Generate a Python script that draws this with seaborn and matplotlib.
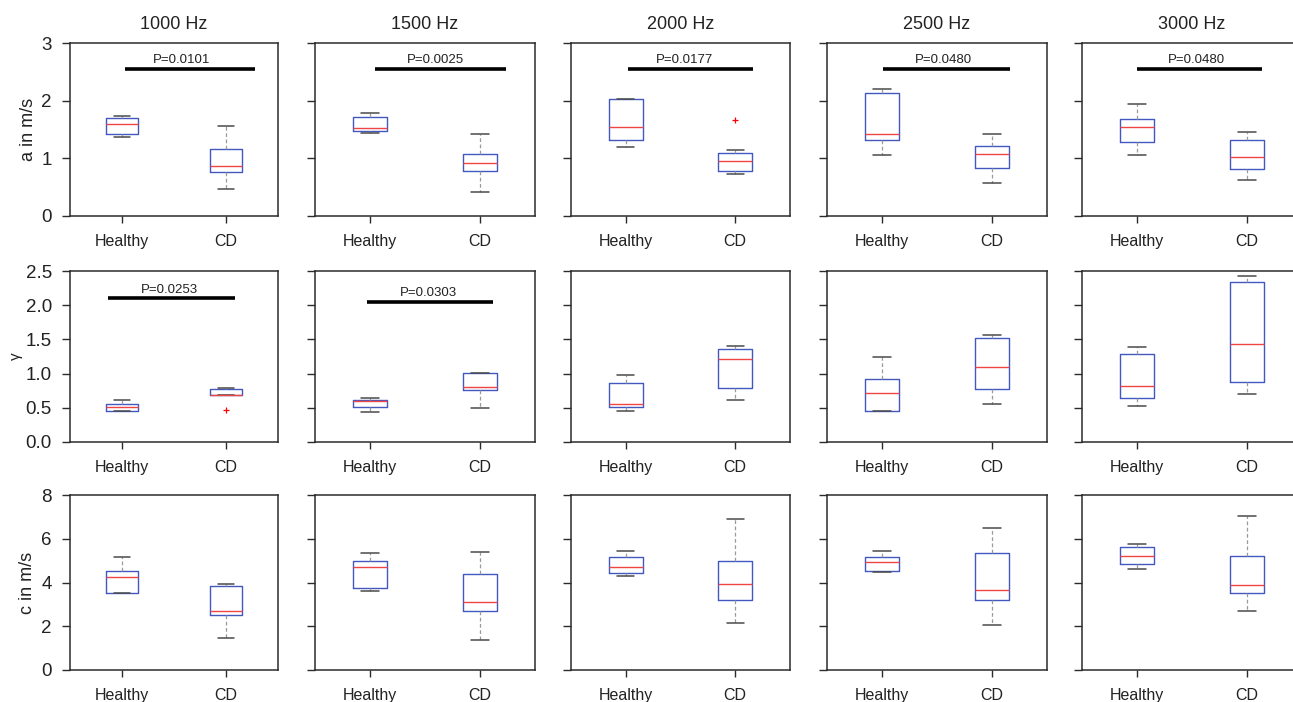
import numpy as np
import pandas as pd
import matplotlib
matplotlib.use("Agg")
import matplotlib.pyplot as plt
import matplotlib.transforms as mtransforms
import seaborn as sns

sns.set_theme(style="ticks")
plt.rcParams["font.family"] = ["Liberation Sans", "DejaVu Sans"]

# Data
freqs = ["1000 Hz", "1500 Hz", "2000 Hz", "2500 Hz", "3000 Hz"]
groups = ["Healthy", "CD"]

# each box: low whisker, Q1, median, Q3, high whisker (one per frequency)
a_healthy = [[1.37, 1.43, 1.59, 1.70, 1.74], [1.44, 1.48, 1.53, 1.71, 1.79],
             [1.19, 1.31, 1.55, 2.03, 2.03], [1.06, 1.32, 1.42, 2.13, 2.21],
             [1.05, 1.28, 1.54, 1.68, 1.94]]
a_cd = [[0.47, 0.76, 0.86, 1.16, 1.56], [0.42, 0.78, 0.92, 1.08, 1.42],
        [0.72, 0.78, 0.95, 1.10, 1.14], [0.58, 0.84, 1.08, 1.21, 1.42],
        [0.62, 0.81, 1.03, 1.32, 1.45]]
a_cd_outliers = [[], [], [1.66], [], []]

gamma_healthy = [[0.45, 0.46, 0.51, 0.55, 0.62], [0.44, 0.51, 0.60, 0.62, 0.65],
                 [0.46, 0.51, 0.55, 0.86, 0.98], [0.45, 0.45, 0.71, 0.92, 1.25],
                 [0.52, 0.64, 0.82, 1.28, 1.39]]
gamma_cd = [[0.68, 0.68, 0.69, 0.77, 0.79], [0.49, 0.76, 0.81, 1.01, 1.01],
            [0.61, 0.79, 1.21, 1.36, 1.41], [0.55, 0.77, 1.10, 1.52, 1.57],
            [0.70, 0.87, 1.43, 2.34, 2.42]]
gamma_cd_outliers = [[0.47], [], [], [], []]

c_healthy = [[3.51, 3.51, 4.25, 4.52, 5.15], [3.59, 3.77, 4.70, 5.00, 5.35],
             [4.32, 4.44, 4.70, 5.18, 5.43], [4.48, 4.51, 4.92, 5.18, 5.43],
             [4.61, 4.83, 5.21, 5.64, 5.76]]
c_cd = [[1.47, 2.53, 2.71, 3.86, 3.95], [1.39, 2.68, 3.13, 4.38, 5.39],
        [2.16, 3.20, 3.92, 5.00, 6.90], [2.04, 3.20, 3.65, 5.35, 6.47],
        [2.70, 3.54, 3.88, 5.21, 7.05]]
c_cd_outliers = [[], [], [], [], []]

a_pvalues = ["P=0.0101", "P=0.0025", "P=0.0177", "P=0.0480", "P=0.0480"]
gamma_pvalues = ["P=0.0253", "P=0.0303", None, None, None]
a_bar_level = [2.55, 2.55, 2.55, 2.55, 2.55]
gamma_bar_level = [2.1, 2.05, None, None, None]

a_ticks = [0, 1, 2, 3]
gamma_ticks = [0.0, 0.5, 1.0, 1.5, 2.0, 2.5]
c_ticks = [0, 2, 4, 6, 8]


def box_samples(stats, outliers):
    """Sample values whose quartiles/whiskers reproduce the drawn box."""
    lo, q1, med, q3, hi = stats
    return [lo, q1, q1, med, med, q3, q3, hi] + list(outliers)


def build_frame(healthy, cd, cd_out, i):
    rows = [("Healthy", v) for v in box_samples(healthy[i], [])]
    rows += [("CD", v) for v in box_samples(cd[i], cd_out[i])]
    return pd.DataFrame(rows, columns=["group", "value"])


rows_spec = [
    ("a in m/s", a_healthy, a_cd, a_cd_outliers, a_ticks, "{:g}", a_pvalues, a_bar_level),
    ("γ", gamma_healthy, gamma_cd, gamma_cd_outliers, gamma_ticks, "{:.1f}", gamma_pvalues, gamma_bar_level),
    ("c in m/s", c_healthy, c_cd, c_cd_outliers, c_ticks, "{:g}", [None] * 5, [None] * 5),
]

# layout in pixels of the 1293x702 canvas
W, H = 1293, 702
lefts = [70, 315, 571, 827, 1082]
widths = [208, 220, 219, 220, 220]
tops = [43, 271, 495]
bottoms = [216, 442, 670]
bar_spans = [[(0.264, 0.889), (0.273, 0.868), (0.26, 0.831), (0.255, 0.83), (0.25, 0.818)],
             [(0.183, 0.793), (0.236, 0.81), None, None, None],
             [None] * 5]
text_x = [[0.537, 0.548, 0.52, 0.53, 0.52], [0.48, 0.515, None, None, None], [None] * 5]
ylabel_x = [-0.16, -0.225, -0.165]
ylabel_size = [13, 11, 13]

box_blue = "#4357c0"
med_red = "#f04545"
spine_col = "#2b2b2b"

fig = plt.figure(figsize=(W / 100, H / 100), dpi=100)

for r, (ylab, healthy, cd, cd_out, ticks, fmt, pvals, levels) in enumerate(rows_spec):
    for c in range(5):
        ax = fig.add_axes([lefts[c] / W, (H - bottoms[r]) / H,
                           widths[c] / W, (bottoms[r] - tops[r]) / H])
        df = build_frame(healthy, cd, cd_out, c)
        sns.boxplot(data=df, x="group", y="value", order=groups, ax=ax,
                    width=0.31, fill=False, whis=1.5, linewidth=1.0,
                    boxprops=dict(color=box_blue, linewidth=1.0),
                    medianprops=dict(color=med_red, linewidth=1.0),
                    whiskerprops=dict(color="#9a9a9a", linestyle=(0, (3, 2)), linewidth=0.9),
                    capprops=dict(color="#4a4a4a", linewidth=1.1),
                    flierprops=dict(marker="+", markeredgecolor="red",
                                    markerfacecolor="red", markersize=5, markeredgewidth=0.9))

        ax.set_ylim(ticks[0], ticks[-1])
        ax.set_yticks(ticks)
        if c == 0:
            ax.set_yticklabels([fmt.format(t) for t in ticks])
            ax.set_ylabel(ylab, fontsize=ylabel_size[r], color="#222")
            ax.yaxis.set_label_coords(ylabel_x[r], 0.5)
        else:
            ax.set_yticklabels([])
            ax.set_ylabel("")
        ax.set_xlabel("")
        ax.set_xlim(-0.5, 1.5)

        for s in ax.spines.values():
            s.set_visible(True)
            s.set_color(spine_col)
            s.set_linewidth(1.1)
        ax.tick_params(axis="y", direction="out", length=6, width=1.0,
                       color=spine_col, labelsize=13.5, pad=7, labelcolor="#222")
        ax.tick_params(axis="x", direction="out", length=5, width=1.0,
                       color=spine_col, labelsize=11.5, pad=8, labelcolor="#222")
        ax.grid(False)

        if r == 0:
            ax.set_title(freqs[c], fontsize=13, pad=10, color="#222")

        if pvals[c] is not None:
            trans = mtransforms.blended_transform_factory(ax.transAxes, ax.transData)
            x0, x1 = bar_spans[r][c]
            ax.plot([x0, x1], [levels[c], levels[c]], color="black", lw=2.6,
                    transform=trans, solid_capstyle="butt")
            ax.annotate(pvals[c], xy=(text_x[r][c], levels[c]), xycoords=trans,
                        xytext=(0, 2), textcoords="offset points",
                        ha="center", va="bottom", fontsize=9.5, color="#222")

fig.savefig("out.png", dpi=100)
